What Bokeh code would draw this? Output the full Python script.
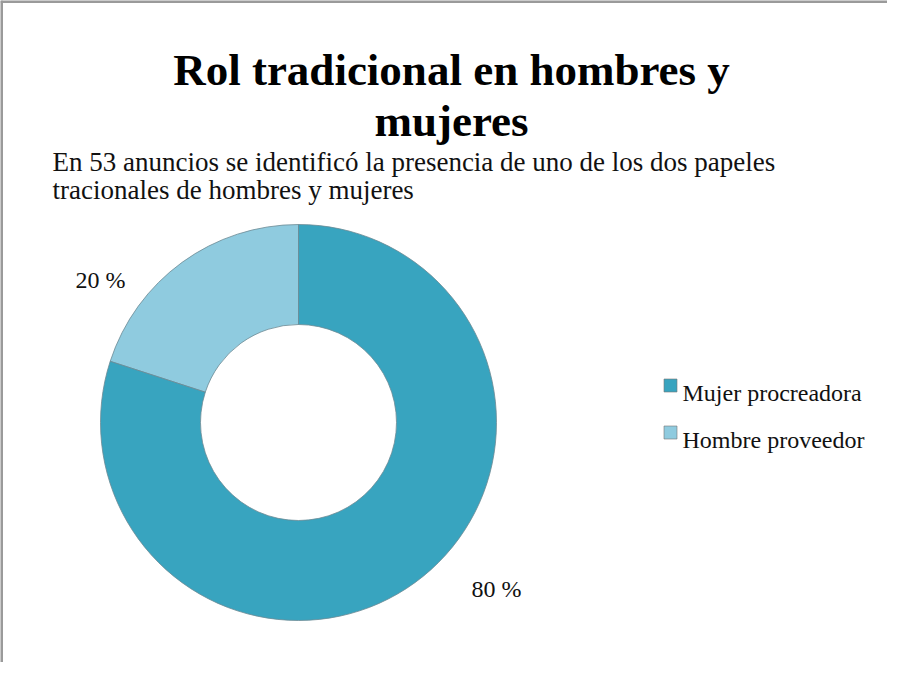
from bokeh.plotting import figure
from bokeh.models import Range1d, ColumnDataSource, Span
from bokeh.core.properties import value
from bokeh.embed import file_html
from bokeh.resources import INLINE
import math

# ---- data ----
title_lines = ["Rol tradicional en hombres y", "mujeres"]
subtitle_lines = ["En 53 anuncios se identificó la presencia de uno de los dos papeles",
                  "tracionales de hombres y mujeres"]
categories = ["Mujer procreadora", "Hombre proveedor"]
percent = [80, 20]
colors = ["#38a4bf", "#8fcbdf"]
label_texts = ["80 %", "20 %"]

W, H = 887, 662
p = figure(width=W, height=H, output_backend="svg", toolbar_location=None,
           x_range=Range1d(0, W), y_range=Range1d(0, H), min_border=0,
           background_fill_color="white", border_fill_color="white")
p.axis.visible = False
p.grid.visible = False
p.outline_line_color = None

# donut: Hombre proveedor starts at 12 o'clock going counter-clockwise, Mujer fills the rest
cx, cy = 298, 240
order = [1, 0]
start = math.pi / 2
starts, ends, cols, names = [], [], [], []
for i in order:
    a = percent[i] / sum(percent) * 2 * math.pi
    starts.append(start)
    ends.append(start + a)
    cols.append(colors[i])
    names.append(categories[i])
    start += a
src = ColumnDataSource(dict(x=[cx] * 2, y=[cy] * 2, s=starts, e=ends, c=cols, n=names))
p.annular_wedge(x="x", y="y", inner_radius=98, outer_radius=198, start_angle="s", end_angle="e",
                fill_color="c", line_color="#6d8a94", line_width=0.8, source=src)

# percentage labels
lsrc = ColumnDataSource(dict(x=[471, 75], y=[74, 383], t=label_texts))
p.text(x="x", y="y", text="t", source=lsrc, text_font=value("Liberation Serif"),
       text_font_size="24px", text_color="#111111", text_baseline="alphabetic")

# title
p.text(x=[451, 451], y=[593, 542], text=title_lines, text_font=value("Liberation Serif"),
       text_font_style="bold", text_font_size="45px", text_align="center",
       text_baseline="alphabetic", text_color="#000000")
# subtitle
p.text(x=[52, 52], y=[501, 473], text=subtitle_lines, text_font=value("Liberation Serif"),
       text_font_size="27px", text_baseline="alphabetic", text_color="#111111")

# legend
p.scatter(x=[670, 670], y=[277, 230], marker="square", size=13, fill_color=colors,
          line_color="#777777", line_width=0.6)
p.text(x=[682, 682], y=[270, 223], text=categories, text_font=value("Liberation Serif"),
       text_font_size="24px", text_baseline="alphabetic", text_color="#111111")

# frame border
p.add_layout(Span(location=1, dimension="height", line_color="#9a9a9a", line_width=3))
p.add_layout(Span(location=H - 1, dimension="width", line_color="#9a9a9a", line_width=3))

open("out.html", "w").write(file_html(p, INLINE))
